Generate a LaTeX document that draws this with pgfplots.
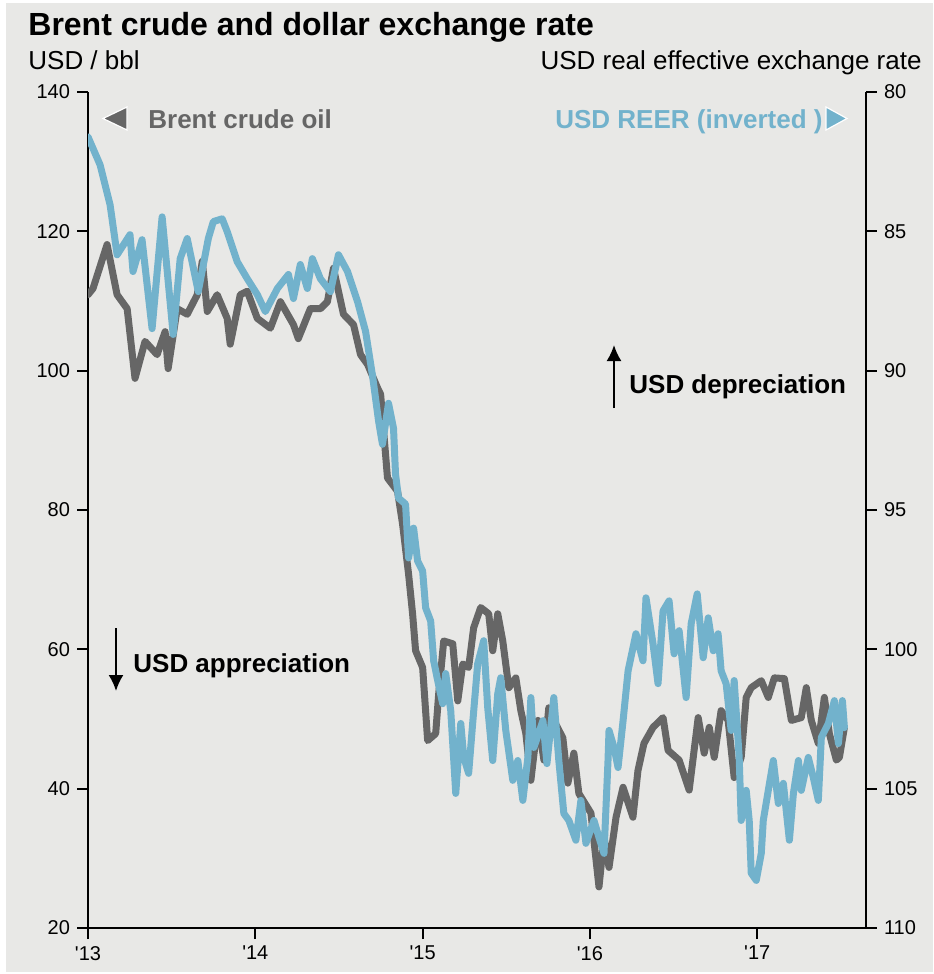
\documentclass[border=0pt]{standalone}
\usepackage{fontspec}
\setmainfont{Liberation Sans}
\usepackage{pgfplots}
\pgfplotsset{compat=1.18}
\usetikzlibrary{arrows.meta}

\definecolor{bgc}{HTML}{E8E8E6}
\definecolor{oilc}{HTML}{666666}
\definecolor{reerc}{HTML}{72B2CC}

% Brent crude, USD/bbl
\pgfplotstableread{
x y
2013.000 110.9
2013.030 111.8
2013.114 118.1
2013.174 110.9
2013.234 108.9
2013.281 98.9
2013.341 104.2
2013.413 102.3
2013.461 105.6
2013.479 100.3
2013.533 108.9
2013.593 108.1
2013.653 110.9
2013.683 115.7
2013.713 108.5
2013.772 110.9
2013.832 107.5
2013.850 103.8
2013.910 110.9
2013.952 111.4
2014.012 107.5
2014.090 106.1
2014.150 109.9
2014.228 106.6
2014.257 104.6
2014.329 108.9
2014.389 108.9
2014.431 109.9
2014.467 114.7
2014.527 108.1
2014.587 106.6
2014.629 102.3
2014.671 100.9
2014.731 97.5
2014.749 96.6
2014.790 84.6
2014.850 82.7
2014.880 78.0
2014.916 70.8
2014.940 65.1
2014.958 59.8
2015.000 57.4
2015.030 46.9
2015.078 47.9
2015.096 53.6
2015.126 61.2
2015.180 60.8
2015.210 52.6
2015.240 57.9
2015.275 57.4
2015.305 63.1
2015.347 66.0
2015.395 65.1
2015.419 59.8
2015.449 65.1
2015.479 61.2
2015.515 54.5
2015.557 55.9
2015.587 51.2
2015.617 47.9
2015.647 41.2
2015.689 49.8
2015.725 44.1
2015.754 51.6
2015.784 49.8
2015.838 47.3
2015.868 40.8
2015.904 45.1
2015.934 39.3
2016.006 36.5
2016.054 25.9
2016.084 33.0
2016.114 28.7
2016.156 35.9
2016.198 40.2
2016.257 35.9
2016.287 42.6
2016.323 46.5
2016.377 48.8
2016.437 50.2
2016.467 45.5
2016.533 44.1
2016.593 39.8
2016.647 50.2
2016.683 45.1
2016.713 48.8
2016.743 44.5
2016.784 51.2
2016.826 49.8
2016.862 41.6
2016.904 44.5
2016.934 53.1
2016.964 54.5
2017.024 55.5
2017.066 53.1
2017.102 55.9
2017.162 55.8
2017.204 49.8
2017.263 50.2
2017.293 54.5
2017.323 49.8
2017.365 46.5
2017.401 53.1
2017.431 47.9
2017.473 44.1
2017.491 44.5
2017.521 48.8
}\oiltable

% USD real effective exchange rate (plotted inverted)
\pgfplotstableread{
x y
2013.000 81.61
2013.072 82.61
2013.132 84.05
2013.174 85.84
2013.251 85.12
2013.269 86.44
2013.323 85.30
2013.383 88.49
2013.443 84.48
2013.509 88.70
2013.551 85.98
2013.593 85.26
2013.659 87.16
2013.719 85.26
2013.749 84.65
2013.802 84.55
2013.832 85.01
2013.892 86.09
2013.952 86.70
2014.012 87.27
2014.060 87.88
2014.132 87.05
2014.198 86.55
2014.228 87.41
2014.269 86.19
2014.311 87.05
2014.341 85.98
2014.389 86.70
2014.449 87.16
2014.497 85.84
2014.551 86.44
2014.611 87.52
2014.659 88.59
2014.701 90.20
2014.737 91.82
2014.760 92.64
2014.796 91.17
2014.826 92.07
2014.838 93.71
2014.856 94.57
2014.898 94.79
2014.916 96.72
2014.946 95.65
2014.970 96.83
2015.000 97.19
2015.018 98.51
2015.048 98.98
2015.066 100.41
2015.090 101.12
2015.120 101.95
2015.138 100.87
2015.168 102.20
2015.198 105.17
2015.228 102.66
2015.246 103.88
2015.275 104.45
2015.299 102.66
2015.329 100.52
2015.365 99.69
2015.389 102.09
2015.419 103.99
2015.449 101.59
2015.467 101.02
2015.497 102.91
2015.539 104.70
2015.569 103.99
2015.599 105.42
2015.629 103.88
2015.647 101.73
2015.665 103.52
2015.719 102.56
2015.743 104.10
2015.784 101.73
2015.814 103.99
2015.844 105.89
2015.874 106.14
2015.916 106.85
2015.946 105.42
2015.976 106.96
2016.024 106.14
2016.054 106.75
2016.084 107.32
2016.108 103.99
2016.114 102.91
2016.144 103.52
2016.168 104.24
2016.198 102.56
2016.228 100.77
2016.275 99.44
2016.317 100.41
2016.335 98.15
2016.377 99.80
2016.407 101.23
2016.437 98.62
2016.473 98.26
2016.503 100.16
2016.533 99.33
2016.575 101.73
2016.605 99.08
2016.641 98.01
2016.677 100.30
2016.707 98.87
2016.737 100.05
2016.766 99.44
2016.784 100.77
2016.814 101.23
2016.844 102.91
2016.862 101.12
2016.892 103.88
2016.904 106.14
2016.934 105.06
2016.952 106.14
2016.964 108.03
2016.994 108.29
2017.024 107.32
2017.036 106.14
2017.066 105.06
2017.096 103.99
2017.126 105.53
2017.156 104.81
2017.192 106.85
2017.216 105.17
2017.246 103.99
2017.263 105.06
2017.305 103.88
2017.335 104.60
2017.365 105.42
2017.383 103.16
2017.425 102.66
2017.461 101.84
2017.485 103.38
2017.509 101.84
2017.521 102.81
}\reertable

\pgfplotsset{
  basestyle/.style={
    scale only axis, width=389pt, height=418pt,
    at={(44pt,-464pt)}, anchor=south west,
    xmin=2013, xmax=2017.65,
    axis line style={line width=1pt, black},
    major tick style={line width=1pt, black},
    tick align=outside, major tick length=5.5pt,
    ticklabel style={font=\fontsize{10}{12}\selectfont},
    /pgf/number format/assume math mode=true,
  },
  serie/.style={line width=3.5pt, line join=round, line cap=round},
}

\begin{document}
\begin{tikzpicture}
\begin{scope}[x=0.5pt, y=-0.5pt]
  \fill[white] (0,0) rectangle (933,974);
  \fill[bgc] (6,3) rectangle (933,972);
\end{scope}

\begin{axis}[basestyle,
  axis x line*=bottom, axis y line*=left,
  ymin=20, ymax=140, ytick={20,40,...,140},
  xtick={2013,2014,2015,2016,2017},
  xticklabels={\textquotesingle13,\textquotesingle14,\textquotesingle15,\textquotesingle16,\textquotesingle17},
]
\addplot[serie, oilc] table[x=x, y=y] {\oiltable};
\end{axis}

\begin{axis}[basestyle,
  axis x line=none, axis y line*=right,
  ymin=80, ymax=110, y dir=reverse, ytick={80,85,...,110},
]
\addplot[serie, reerc] table[x=x, y=y] {\reertable};
\end{axis}

\begin{scope}[x=0.5pt, y=-0.5pt]
  \node[anchor=base west, inner sep=0, font=\fontsize{16}{19}\bfseries\selectfont] at (28,36) {Brent crude and dollar exchange rate};
  \node[anchor=base west, inner sep=0, font=\fontsize{13}{15}\selectfont] at (28,70) {USD / bbl};
  \node[anchor=base east, inner sep=0, font=\fontsize{13}{15}\selectfont] at (922,70) {USD real effective exchange rate};
  % legend entries
  \filldraw[fill=oilc, draw=white, line width=0.6pt] (103,118.5) -- (127,107) -- (127,130) -- cycle;
  \node[anchor=base west, inner sep=0, text=oilc, font=\fontsize{13}{15}\bfseries\selectfont] at (148,128) {Brent crude oil};
  \filldraw[fill=reerc, draw=white, line width=0.6pt] (847,118.5) -- (826,107) -- (826,130) -- cycle;
  \node[anchor=base east, inner sep=0, text=reerc, font=\fontsize{13}{15}\bfseries\selectfont] at (823,128) {USD REER (inverted )};
  % direction notes
  \draw[line width=1pt, -{Latex[length=8pt, width=7.5pt]}] (614,408) -- (614,345);
  \node[anchor=base west, inner sep=0, font=\fontsize{13}{15}\bfseries\selectfont] at (629,393) {USD depreciation};
  \draw[line width=1pt, -{Latex[length=8pt, width=7.5pt]}] (116,628) -- (116,691);
  \node[anchor=base west, inner sep=0, font=\fontsize{13}{15}\bfseries\selectfont] at (133,672) {USD appreciation};
\end{scope}
\end{tikzpicture}
\end{document}
